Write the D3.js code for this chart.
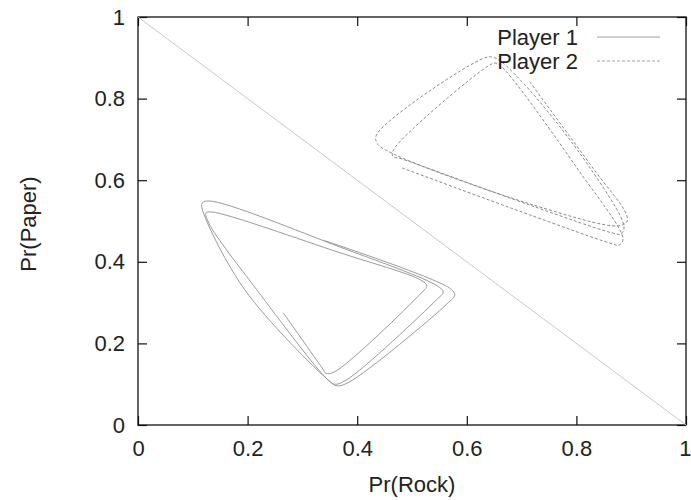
<!DOCTYPE html>
<html>
<head>
<meta charset="utf-8">
<script src="https://cdn.jsdelivr.net/npm/d3@7"></script>
<style>
  html, body { margin: 0; padding: 0; background: #fff; }
  svg { display: block; }
  text { font-family: "Liberation Sans", Arial, Helvetica, sans-serif; fill: #222; }
</style>
</head>
<body>
<svg id="chart" width="691" height="500"></svg>
<script>
// Mixed-strategy trajectories in Rock-Paper-Scissors: Pr(Rock) vs Pr(Paper)
const tickValues = [0, 0.2, 0.4, 0.6, 0.8, 1];
const tickLabels = ["0", "0.2", "0.4", "0.6", "0.8", "1"];
const seriesNames = ["Player 1", "Player 2"];

// Player 1 trajectory: [Pr(Rock), Pr(Paper)]
const player1 = [
  [0.265, 0.275], [0.336, 0.140], [0.343, 0.127], [0.358, 0.130],
  [0.515, 0.321], [0.527, 0.341], [0.516, 0.355], [0.369, 0.422],
  [0.135, 0.522], [0.124, 0.520], [0.130, 0.493], [0.217, 0.331],
  [0.347, 0.110], [0.359, 0.100], [0.380, 0.110], [0.544, 0.306],
  [0.557, 0.326], [0.546, 0.341], [0.369, 0.436], [0.131, 0.549],
  [0.117, 0.544], [0.119, 0.522], [0.195, 0.331], [0.349, 0.108],
  [0.363, 0.096], [0.385, 0.105], [0.564, 0.297], [0.578, 0.319],
  [0.568, 0.336], [0.338, 0.453]
];

// Player 2 trajectory: [Pr(Rock), Pr(Paper)]
const player2 = [
  [0.482, 0.630], [0.715, 0.515], [0.861, 0.446], [0.878, 0.441],
  [0.885, 0.456], [0.801, 0.630], [0.666, 0.875], [0.653, 0.887],
  [0.639, 0.880], [0.467, 0.676], [0.465, 0.659], [0.482, 0.652],
  [0.715, 0.539], [0.865, 0.471], [0.881, 0.468], [0.887, 0.485],
  [0.825, 0.630], [0.701, 0.841], [0.651, 0.900], [0.633, 0.900],
  [0.436, 0.713], [0.436, 0.691], [0.467, 0.664], [0.715, 0.542],
  [0.876, 0.488], [0.892, 0.498], [0.891, 0.517], [0.830, 0.630],
  [0.715, 0.841]
];

// Simplex boundary Pr(Rock) + Pr(Paper) = 1
const boundary = [[0, 1], [1, 0]];

const margin = { top: 17, right: 5, bottom: 75, left: 138 };
const W = 691, H = 500;
const iw = W - margin.left - margin.right;
const ih = H - margin.top - margin.bottom;

const svg = d3.select("#chart");
const g = svg.append("g").attr("transform", `translate(${margin.left},${margin.top})`);

const x = d3.scaleLinear().domain([0, 1]).range([0, iw]);
const y = d3.scaleLinear().domain([0, 1]).range([ih, 0]);

const fontSize = 22;
const tickLen = 9;

// axes with inward ticks (bottom/left labelled, top/right mirrored)
const fmt = (d) => tickLabels[tickValues.indexOf(d)];
const axisStyle = (sel) => {
  sel.select(".domain").remove();
  sel.selectAll(".tick line").attr("stroke", "#111").attr("stroke-width", 1.2);
  sel.selectAll(".tick text").style("font-size", fontSize + "px").attr("fill", "#222");
};

const xAxisG = g.append("g").attr("transform", `translate(0,${ih})`)
  .call(d3.axisBottom(x).tickValues(tickValues).tickFormat(fmt).tickSizeInner(-tickLen).tickSizeOuter(0).tickPadding(15))
  .call(axisStyle);
// keep the last label inside the canvas edge
xAxisG.selectAll(".tick text").filter(d => d === 1).attr("text-anchor", "end").attr("x", 5);

g.append("g")
  .call(d3.axisLeft(y).tickValues(tickValues).tickFormat(fmt).tickSizeInner(-tickLen).tickSizeOuter(0).tickPadding(13))
  .call(axisStyle);
g.append("g")
  .call(d3.axisTop(x).tickValues(tickValues).tickFormat("").tickSizeInner(-tickLen).tickSizeOuter(0))
  .call(axisStyle);
g.append("g").attr("transform", `translate(${iw},0)`)
  .call(d3.axisRight(y).tickValues(tickValues).tickFormat("").tickSizeInner(-tickLen).tickSizeOuter(0))
  .call(axisStyle);

// frame
g.append("rect").attr("x", 0).attr("y", 0).attr("width", iw).attr("height", ih)
  .attr("fill", "none").attr("stroke", "#111").attr("stroke-width", 1.3);

// simplex boundary
const straight = d3.line().x(d => x(d[0])).y(d => y(d[1]));
g.append("path").datum(boundary).attr("d", straight)
  .attr("fill", "none").attr("stroke", "#c8c8c8").attr("stroke-width", 1);

// trajectories
const curve = d3.line().x(d => x(d[0])).y(d => y(d[1])).curve(d3.curveCatmullRom.alpha(0.5));
g.append("path").datum(player1).attr("d", curve)
  .attr("fill", "none").attr("stroke", "#9a9a9a").attr("stroke-width", 1);
g.append("path").datum(player2).attr("d", curve)
  .attr("fill", "none").attr("stroke", "#8a8a8a").attr("stroke-width", 1)
  .attr("stroke-dasharray", "3,2");

// legend
const legend = svg.append("g");
const legendStyles = [
  { stroke: "#a0a0a0", dash: null },
  { stroke: "#a0a0a0", dash: "3,2" }
];
seriesNames.forEach((name, i) => {
  const ly = 37 + i * 24;
  legend.append("text").attr("x", 578).attr("y", ly).attr("dy", "0.36em")
    .attr("text-anchor", "end").style("font-size", fontSize + "px").text(name);
  legend.append("line").attr("x1", 597).attr("x2", 660).attr("y1", ly).attr("y2", ly)
    .attr("stroke", legendStyles[i].stroke).attr("stroke-width", 1)
    .attr("stroke-dasharray", legendStyles[i].dash);
});

// axis titles
svg.append("text").attr("x", margin.left + iw / 2).attr("y", 492)
  .attr("text-anchor", "middle").style("font-size", fontSize + "px").text("Pr(Rock)");
svg.append("text")
  .attr("transform", `translate(36,${margin.top + ih / 2 + 3}) rotate(-90)`)
  .attr("text-anchor", "middle").style("font-size", fontSize + "px").text("Pr(Paper)");
</script>
</body>
</html>
